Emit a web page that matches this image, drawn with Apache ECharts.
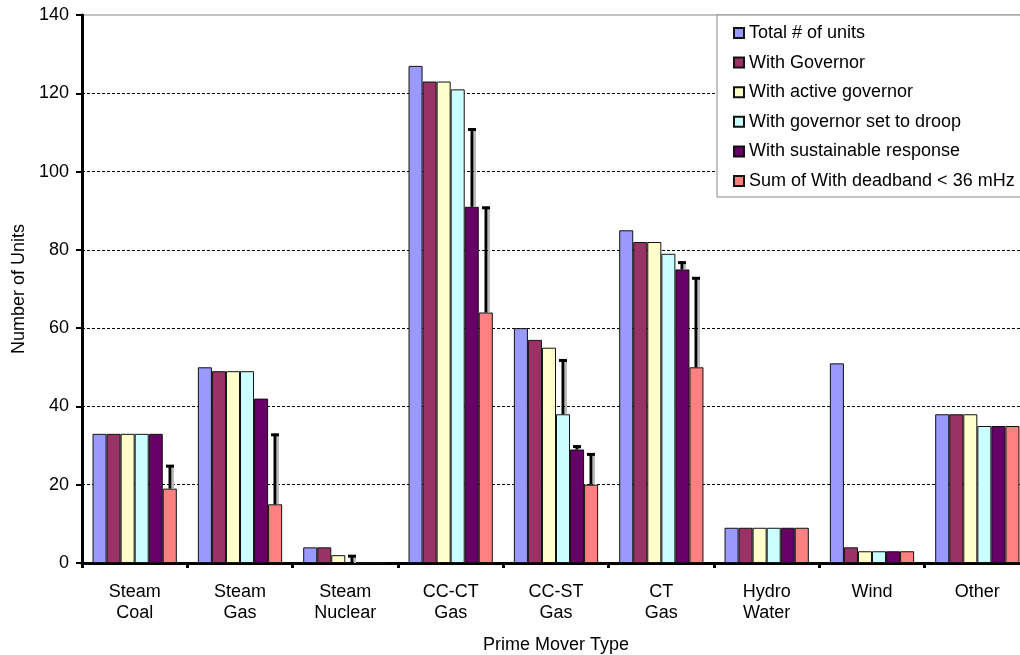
<!DOCTYPE html>
<html>
<head>
<meta charset="utf-8">
<script src="https://cdn.jsdelivr.net/npm/echarts@6/dist/echarts.min.js"></script>
<style>
html,body{margin:0;padding:0;background:#fff;overflow:hidden;width:1020px;height:655px;}
#chart{width:1031px;height:655px;}
</style>
</head>
<body>
<div id="chart"></div>
<script>
const categories = ["Steam\nCoal","Steam\nGas","Steam\nNuclear","CC-CT\nGas","CC-ST\nGas","CT\nGas","Hydro\nWater","Wind","Other"];
const seriesNames = ["Total # of units","With Governor","With active governor","With governor set to droop","With sustainable response","Sum of With deadband < 36 mHz"];
const totalUnits   = [33, 50, 4, 127, 60, 85, 9, 51, 38];
const withGovernor = [33, 49, 4, 123, 57, 82, 9, 4, 38];
const activeGov    = [33, 49, 2, 123, 55, 82, 9, 3, 38];
const droopGov     = [33, 49, 0, 121, 38, 79, 9, 3, 35];
const sustainable  = [33, 42, 0, 91, 29, 75, 9, 3, 35];
const deadband     = [19, 15, 0, 64, 20, 50, 9, 3, 35];
// upper ends of error bars (null = none)
const droopErr       = [null, null, 2, null, 52, null, null, null, null];
const sustainableErr = [null, null, null, 111, 30, 77, null, null, null];
const deadbandErr    = [25, 33, null, 91, 28, 73, null, null, null];
const yTicks = [0, 20, 40, 60, 80, 100, 120, 140];

const colors = ['#9999FF','#993366','#FFFFCC','#CCFFFF','#660066','#FF8080'];
const allValues = [totalUnits, withGovernor, activeGov, droopGov, sustainable, deadband];
const FONT = "'Liberation Sans', Arial, sans-serif";
const FS = 18;
const CAT_GAP = 0.2;
const NBARS = 6;

const barSeries = allValues.map((vals, i) => ({
  name: seriesNames[i],
  type: 'bar',
  data: vals,
  barGap: '0%',
  barCategoryGap: (CAT_GAP*100) + '%',
  itemStyle: { color: colors[i], borderColor: '#111', borderWidth: 1 },
  z: 2
}));

function errSeries(vals, errs, k) {
  const data = [];
  errs.forEach((e, i) => { if (e !== null) data.push([i, vals[i], e]); });
  return {
    type: 'custom',
    name: 'err' + k,
    z: 5,
    silent: true,
    encode: { x: 0, y: [1, 2] },
    data: data,
    renderItem: function (params, api) {
      const idx = api.value(0);
      const base = api.coord([idx, api.value(1)]);
      const top = api.coord([idx, api.value(2)]);
      const w = api.size([1, 0])[0];
      const gw = w * (1 - CAT_GAP);
      const bw = gw / NBARS;
      const x = Math.round(base[0] - gw / 2 + bw * (k + 0.5));
      const y0 = base[1], y1 = top[1];
      return {
        type: 'group',
        children: [
          { type: 'line', shape: { x1: x + 3, y1: y1 + 2, x2: x + 3, y2: y0 }, style: { stroke: '#bbbbbb', lineWidth: 2 } },
          { type: 'line', shape: { x1: x, y1: y1, x2: x, y2: y0 }, style: { stroke: '#000', lineWidth: 3 } },
          { type: 'line', shape: { x1: x - 4, y1: y1 + 1, x2: x + 4, y2: y1 + 1 }, style: { stroke: '#000', lineWidth: 3 } }
        ]
      };
    }
  };
}

const chart = echarts.init(document.getElementById('chart'), null, { renderer: 'canvas' });
chart.setOption({
  animation: false,
  backgroundColor: '#fff',
  textStyle: { fontFamily: FONT, color: '#000' },
  grid: { left: 82, right: 1, top: 15, bottom: 92, outerBoundsMode: 'none', containLabel: false, show: true, borderColor: '#888', borderWidth: 1, backgroundColor: 'transparent' },
  legend: {
    data: seriesNames,
    orient: 'vertical',
    left: 717,
    top: 15,
    padding: [8, 6, 6, 16],
    itemWidth: 10,
    itemHeight: 10,
    itemGap: 9.6,
    itemTextGap: 4,
    icon: 'rect',
    backgroundColor: '#fff',
    borderColor: '#888',
    borderWidth: 1,
    textStyle: { fontFamily: FONT, fontSize: FS, color: '#000', lineHeight: 20 }
  },
  xAxis: {
    type: 'category',
    data: categories,
    name: 'Prime Mover Type',
    nameLocation: 'middle',
    nameGap: 73,
    nameTextStyle: { fontFamily: FONT, fontSize: FS, color: '#000' },
    axisLine: { lineStyle: { color: '#000', width: 3 } },
    axisTick: { show: true, length: 5, lineStyle: { color: '#000', width: 3 }, interval: 0 },
    axisLabel: { fontFamily: FONT, fontSize: FS, color: '#000', lineHeight: 21, margin: 19, interval: 0 },
    splitLine: { show: false }
  },
  yAxis: {
    type: 'value',
    min: yTicks[0],
    max: yTicks[yTicks.length - 1],
    interval: yTicks[1] - yTicks[0],
    name: 'Number of Units',
    nameLocation: 'middle',
    nameGap: 54,
    nameRotate: 90,
    nameTextStyle: { fontFamily: FONT, fontSize: FS, color: '#000' },
    axisLine: { show: true, lineStyle: { color: '#000', width: 3 } },
    axisTick: { show: true, length: 6, lineStyle: { color: '#000', width: 2 } },
    axisLabel: { fontFamily: FONT, fontSize: FS, color: '#000', margin: 13 },
    splitLine: { show: true, showMaxLine: false, showMinLine: false, lineStyle: { color: '#000', width: 1, type: [3, 2] } }
  },
  series: barSeries.concat([
    errSeries(droopGov, droopErr, 3),
    errSeries(sustainable, sustainableErr, 4),
    errSeries(deadband, deadbandErr, 5)
  ])
});
</script>
</body>
</html>
